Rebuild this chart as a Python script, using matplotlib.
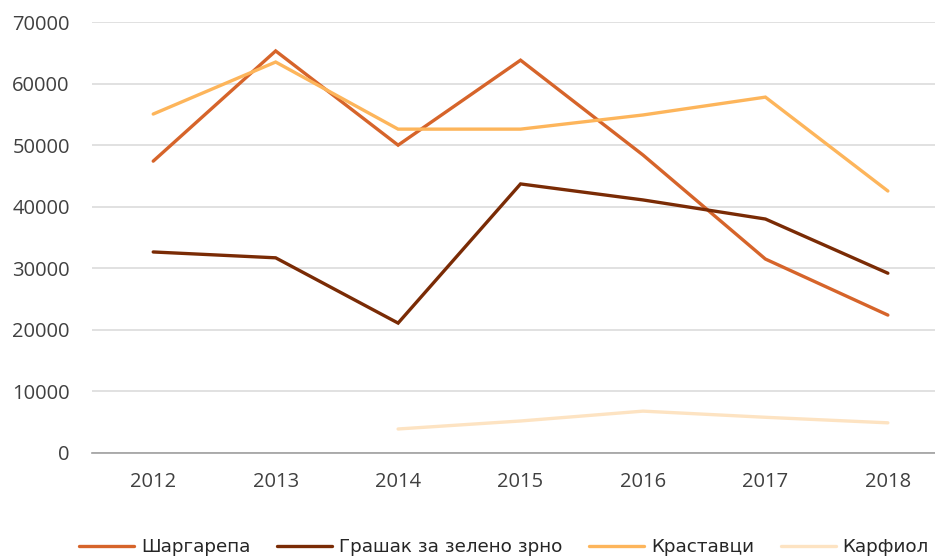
import matplotlib
matplotlib.use("Agg")
import matplotlib.pyplot as plt
import numpy as np

years = ["2012", "2013", "2014", "2015", "2016", "2017", "2018"]
shargarepa = [47400, 65300, 50000, 63800, 48400, 31500, 22400]
grashak = [32650, 31700, 21100, 43700, 41100, 38000, 29200]
krastavci = [55050, 63500, 52600, 52600, 54900, 57800, 42550]
karfiol = [np.nan, np.nan, 3900, 5200, 6800, 5800, 4900]

names = ["Шаргарепа", "Грашак за зелено зрно", "Краставци", "Карфиол"]
colors = ["#D6642A", "#7A2B05", "#FDB55B", "#FDE3C2"]
series = [shargarepa, grashak, krastavci, karfiol]

plt.rcParams['font.family'] = ['Open Sans', 'DejaVu Sans']

fig = plt.figure(figsize=(9.35, 5.58), dpi=100)
ax = fig.add_axes([92/935, 1-453/558, 1-92/935, (453-22)/558])

x = np.arange(len(years))
for s, c, n in zip(series, colors, names):
    ax.plot(x, s, color=c, lw=2.4, label=n, solid_capstyle='round', solid_joinstyle='miter')

ax.set_xlim(-0.5, 6.385)
ax.set_ylim(0, 70000)
ax.set_yticks(np.arange(0, 70001, 10000))
ax.set_xticks(x)
ax.set_xticklabels(years)
ax.grid(axis='y', color='#D9D9D9', lw=1.1)
ax.set_axisbelow(True)
for sp in ['top', 'right', 'left']:
    ax.spines[sp].set_visible(False)
ax.spines['bottom'].set_color('#A0A0A0')
ax.spines['bottom'].set_linewidth(1.2)
ax.tick_params(axis='both', length=0, labelsize=14.5, colors='#404040')
ax.tick_params(axis='y', pad=16)
ax.tick_params(axis='x', pad=14)

leg = fig.legend(loc='center', bbox_to_anchor=(0.539, 1-547/558), ncol=4, frameon=False,
                 prop={'family': ['DejaVu Sans'], 'size': 13.2},
                 handlelength=3.0, handletextpad=0.38, columnspacing=1.45)
for t in leg.get_texts():
    t.set_color('#262626')

fig.savefig("out.png", dpi=100)
